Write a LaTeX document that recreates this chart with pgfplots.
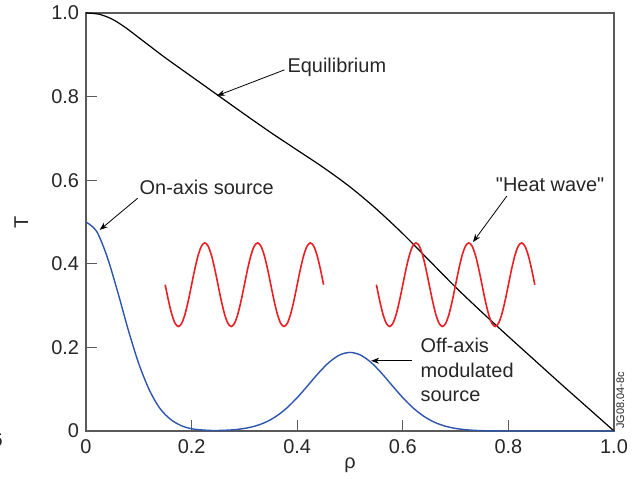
\documentclass[border=0pt]{standalone}
\usepackage{fontspec}
\setmainfont{Liberation Sans}
\newfontfamily\qfont{Liberation Sans}
\usepackage{pgfplots}
\pgfplotsset{compat=1.18}
\usepackage{pgfplotstable}
\usetikzlibrary{arrows.meta}
\definecolor{cblue}{RGB}{45,85,175}
\definecolor{cred}{RGB}{235,30,35}
\definecolor{axgray}{RGB}{90,90,90}

\pgfplotstableread{
x y
0 1.0
0.025 0.997
0.05 0.985
0.075 0.965
0.1 0.941
0.125 0.917
0.15 0.893
0.2 0.848
0.25 0.803
0.3 0.758
0.35 0.714
0.4 0.672
0.45 0.630
0.5 0.584
0.55 0.531
0.6 0.472
0.65 0.408
0.7 0.344
0.75 0.284
0.8 0.226
0.85 0.169
0.9 0.112
0.95 0.056
1.0 0.0
}\equil

\pgfplotstableread{
x y
0 0.5
0.02 0.478
0.04 0.417
0.06 0.333
0.08 0.242
0.10 0.161
0.12 0.098
0.14 0.054
0.16 0.028
0.18 0.013
0.20 0.0054
0.22 0.0025
0.24 0.0012
0.26 0.0016
0.28 0.0030
0.30 0.0061
0.32 0.0117
0.34 0.0209
0.36 0.0350
0.38 0.0547
0.40 0.0798
0.42 0.1086
0.44 0.1381
0.46 0.1639
0.48 0.1817
0.50 0.1880
0.52 0.1817
0.54 0.1639
0.56 0.1381
0.58 0.1086
0.60 0.0798
0.62 0.0547
0.64 0.0350
0.66 0.0209
0.68 0.0117
0.70 0.0061
0.72 0.0030
0.74 0.0013
0.76 0.0005
0.78 0.0002
0.80 0.0
0.9 0.0
1.0 0.0
}\source

\pgfplotstableread{
x y
0.15 0.35
0.15625 0.3117
0.1625 0.2793
0.16875 0.2576
0.175 0.25
0.18125 0.2576
0.1875 0.2793
0.19375 0.3117
0.2 0.35
0.20625 0.3883
0.2125 0.4207
0.21875 0.4424
0.225 0.45
0.23125 0.4424
0.2375 0.4207
0.24375 0.3883
0.25 0.35
0.25625 0.3117
0.2625 0.2793
0.26875 0.2576
0.275 0.25
0.28125 0.2576
0.2875 0.2793
0.29375 0.3117
0.3 0.35
0.30625 0.3883
0.3125 0.4207
0.31875 0.4424
0.325 0.45
0.33125 0.4424
0.3375 0.4207
0.34375 0.3883
0.35 0.35
0.35625 0.3117
0.3625 0.2793
0.36875 0.2576
0.375 0.25
0.38125 0.2576
0.3875 0.2793
0.39375 0.3117
0.4 0.35
0.40625 0.3883
0.4125 0.4207
0.41875 0.4424
0.425 0.45
0.43125 0.4424
0.4375 0.4207
0.44375 0.3883
0.45 0.35
}\waveA

\pgfplotstableread{
x y
0.55 0.35
0.55625 0.3117
0.5625 0.2793
0.56875 0.2576
0.575 0.25
0.58125 0.2576
0.5875 0.2793
0.59375 0.3117
0.6 0.35
0.60625 0.3883
0.6125 0.4207
0.61875 0.4424
0.625 0.45
0.63125 0.4424
0.6375 0.4207
0.64375 0.3883
0.65 0.35
0.65625 0.3117
0.6625 0.2793
0.66875 0.2576
0.675 0.25
0.68125 0.2576
0.6875 0.2793
0.69375 0.3117
0.7 0.35
0.70625 0.3883
0.7125 0.4207
0.71875 0.4424
0.725 0.45
0.73125 0.4424
0.7375 0.4207
0.74375 0.3883
0.75 0.35
0.75625 0.3117
0.7625 0.2793
0.76875 0.2576
0.775 0.25
0.78125 0.2576
0.7875 0.2793
0.79375 0.3117
0.8 0.35
0.80625 0.3883
0.8125 0.4207
0.81875 0.4424
0.825 0.45
0.83125 0.4424
0.8375 0.4207
0.84375 0.3883
0.85 0.35
}\waveB

\begin{document}
\begin{tikzpicture}
\begin{axis}[
  name=ax,
  scale only axis,
  width=264bp, height=209bp,
  xmin=0, xmax=1, ymin=0, ymax=1,
  xtick={0,0.2,0.4,0.6,0.8,1.0},
  xticklabels={0,0.2,0.4,0.6,0.8,1.0},
  ytick={0,0.2,0.4,0.6,0.8,1.0},
  yticklabels={0,0.2,0.4,0.6,0.8,1.0},
  tick align=inside,
  xtick pos=bottom, ytick pos=left,
  major tick length=5.5bp,
  axis line style={axgray, line width=0.6bp},
  tick style={axgray, line width=0.6bp},
  tick label style={font=\fontsize{10}{12}\selectfont, text=black!85},
  xticklabel style={yshift=-1bp},
  xlabel={ρ},
  ylabel={T},
  label style={font=\fontsize{10}{12}\selectfont, text=black!85},
  xlabel style={at={(axis description cs:0.5,-0.081)}, anchor=center},
  ylabel style={at={(axis description cs:-0.1225,0.5)}, anchor=center, rotate=0},
  clip=false,
]
\addplot[black, line width=0.6bp, smooth] table[x=x,y=y] {\equil};
\addplot[cblue, line width=0.7bp, smooth] table[x=x,y=y] {\source};
\addplot[cred, line width=0.8bp, smooth] table[x=x,y=y] {\waveA};
\addplot[cred, line width=0.8bp, smooth] table[x=x,y=y] {\waveB};

\tikzset{ann/.style={font=\fontsize{10}{12}\selectfont, text=black!85, inner sep=0pt},
         arr/.style={-{Stealth[length=4bp,width=3bp]}, line width=0.4bp, black}}
\node[ann, anchor=west] at (axis cs:0.381,0.871) {Equilibrium};
\draw[arr] (axis cs:0.376,0.864) -- (axis cs:0.248,0.802);
\node[ann, anchor=west] at (axis cs:0.101,0.584) {On-axis source};
\draw[arr] (axis cs:0.098,0.557) -- (axis cs:0.026,0.481);
\node[ann, anchor=center] at (axis cs:0.879,0.589) {\qfont "Heat wave"};
\draw[arr] (axis cs:0.797,0.562) -- (axis cs:0.733,0.452);
\node[ann, anchor=west, align=left] at (axis cs:0.633,0.146) {Off-axis\\[0.25bp]modulated\\[0.25bp]source};
\draw[arr] (axis cs:0.617,0.168) -- (axis cs:0.540,0.168);
\node[font=\fontsize{5.5}{6}\selectfont, rotate=90, anchor=north west, inner sep=0pt, text=black!85] at ([xshift=1bp,yshift=1bp]axis cs:1,0) {JG08.04-8c};
\end{axis}
\node[font=\fontsize{10}{12}\selectfont, text=black!85, anchor=east, inner sep=0pt] at ([xshift=-41.5bp,yshift=-4.5bp]ax.south west) {6};
\pgfresetboundingbox
\path[use as bounding box] ([xshift=-43bp,yshift=-24bp]ax.south west) rectangle ([xshift=12.5bp,yshift=6.5bp]ax.north east);
\end{tikzpicture}
\end{document}
